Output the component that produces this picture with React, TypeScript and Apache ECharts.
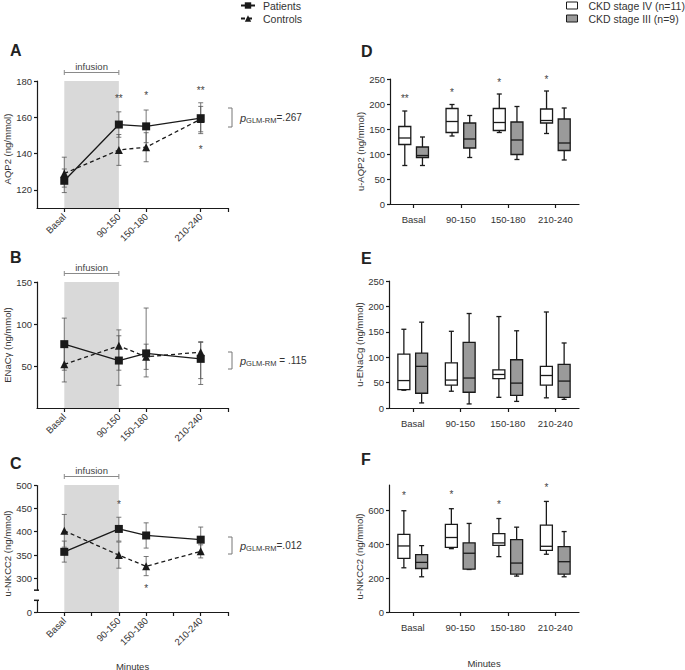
import React, { useEffect, useRef } from 'react';
import * as echarts from 'echarts';

const FONT = '"Liberation Sans", Arial, Helvetica, sans-serif';
const INK = '#1a1a1a';
const TXT = '#333';

// ---------- time points (left panels) ----------
const timeLabels = ['Basal', '90-150', '150-180', '210-240'];
const timePos = [0, 2, 3, 5];

// Panel A: AQP2
const aPat = [125, 156, 155, 159.5];
const aPatLo = [118.5, 149, 146, 151];
const aPatHi = [131.5, 163, 164, 168];
const aCtl = [129, 142, 143.5, 159];
const aCtlLo = [121.5, 133.5, 135.5, 152];
const aCtlHi = [138, 150.5, 151.5, 166];
const aStarX = [2, 3, 5, 5];
const aStarY = [172, 173.5, 176.5, 144];
const aStarText = ['**', '*', '**', '*'];

// Panel B: ENaCγ
const bPat = [76, 56.5, 65, 58.5];
const bPatLo = [45, 27, 37, 28];
const bPatHi = [107, 86, 119, 79];
const bCtl = [52, 74, 61, 66.5];
const bCtlLo = [31, 45, 46, 35];
const bCtlHi = [73, 93, 76, 78];

// Panel C: u-NKCC2 (axis broken between 25 and 275)
const cPat = [357, 406, 392, 383];
const cPatLo = [335, 380, 365, 356];
const cPatHi = [380, 431, 419, 410];
const cCtl = [402, 350, 326, 358];
const cCtlLo = [367, 322, 306, 344];
const cCtlHi = [437, 378, 347, 372];
const cStarX = [2, 3];
const cStarY = [464, 285];
const cStarText = ['*', '*'];
const cBreak = [25, 275];

// ---------- box plots (right panels): [min, q1, median, q3, max] ----------
const dStage4 = [[77, 119, 132, 155, 186], [136, 143, 165, 191, 199], [143, 147, 163, 191, 220], [141, 162, 167, 190, 226]];
const dStage3 = [[77, 93, 97, 114, 134], [93, 112, 130, 162, 177], [89, 99, 128, 164, 195], [88, 107, 122, 170, 192]];
const dStarY = [218, 229, 249, 255];
const dStarText = ['**', '*', '*', '*'];

const eStage4 = [[35, 36, 54, 106, 155], [33, 45, 55, 89, 151], [21, 58, 66, 75, 180], [20, 45, 64, 82, 189]];
const eStage3 = [[10, 29, 82, 108, 169], [8, 31, 59, 129, 186], [13, 25, 49, 95, 152], [17, 21, 53, 86, 128]];

const fStage4 = [[261, 317, 390, 459, 598], [374, 382, 440, 517, 610], [327, 394, 408, 463, 552], [341, 364, 388, 513, 653]];
const fStage3 = [[208, 257, 293, 339, 392], [251, 253, 347, 408, 523], [212, 224, 289, 428, 501], [208, 224, 297, 386, 475]];
const fStarY = [703, 713, 653, 752];
const fStarText = ['*', '*', '*', '*'];

const S4 = 'CKD stage IV (n=11)';
const S3 = 'CKD stage III (n=9)';

function buildOption() {
  const grids = [
    { left: 37, top: 81, width: 191, height: 127 },
    { left: 37, top: 282, width: 191, height: 126 },
    { left: 37, top: 485, width: 191, height: 127 },
    { left: 390, top: 79, width: 189, height: 125 },
    { left: 389, top: 281, width: 190, height: 127 },
    { left: 389, top: 485, width: 190, height: 127 },
  ].map((g) => ({ ...g, containLabel: false, outerBoundsMode: 'none' }));

  const axisLine = { show: true, onZero: false, lineStyle: { color: INK, width: 1.2 } };
  const tickStyle = { color: INK, width: 1.2 };
  const nameStyle = (shift = 0) => ({ fontSize: 9.5, color: TXT, fontFamily: FONT, padding: [0, shift, 0, 0] });

  const leftX = (gi: number, ticks: number[], name?: string) => ({
    type: 'value', gridIndex: gi, min: -1, max: 6,
    axisLine,
    axisTick: { show: true, length: 4, customValues: ticks, lineStyle: tickStyle },
    axisLabel: {
      customValues: timePos,
      formatter: (v: number) => timeLabels[timePos.indexOf(v)] ?? '',
      rotate: 45, fontSize: 9.5, color: TXT, fontFamily: FONT, margin: 7,
    },
    splitLine: { show: false },
    name: name ?? '', nameLocation: 'middle', nameGap: 49, nameTextStyle: nameStyle(),
  });

  const rightX = (gi: number, name?: string) => ({
    type: 'category', gridIndex: gi, data: timeLabels, boundaryGap: true,
    axisLine,
    axisTick: { show: true, length: 4, alignWithLabel: true, lineStyle: tickStyle },
    axisLabel: { fontSize: 9.5, color: TXT, fontFamily: FONT, margin: 10 },
    splitLine: { show: false },
    name: name ?? '', nameLocation: 'middle', nameGap: 46, nameTextStyle: nameStyle(),
  });

  const yAx = (gi: number, min: number, max: number, name: string, gap: number, shift: number, extra: any = {}) => ({
    type: 'value', gridIndex: gi, min, max,
    axisLine,
    axisTick: { show: true, length: 3, lineStyle: tickStyle, ...(extra.ticks ? { customValues: extra.ticks } : {}) },
    axisLabel: { fontSize: 9.5, color: TXT, fontFamily: FONT, margin: 5, ...(extra.labels ? { customValues: extra.labels } : {}) },
    splitLine: { show: false },
    name, nameLocation: 'middle', nameGap: gap, nameTextStyle: nameStyle(shift),
    ...(extra.interval ? { interval: extra.interval } : {}),
    ...(extra.axis ?? {}),
  });

  const xAxis = [
    leftX(0, [0, 2, 3, 5, 6]),
    leftX(1, [0, 2, 3, 5, 6]),
    leftX(2, [0, 1, 2, 3, 4, 5, 6], 'Minutes'),
    rightX(3),
    rightX(4),
    rightX(5, 'Minutes'),
  ];

  const yAxis = [
    yAx(0, 110, 180, 'AQP2 (ng/mmol)', 22, 9, { labels: [120, 140, 160, 180], ticks: [120, 140, 160, 180] }),
    yAx(1, 0, 150, 'ENaCγ (ng/mmol)', 22, 0, { labels: [50, 100, 150], ticks: [50, 100, 150] }),
    yAx(2, 0, 500, 'u-NKCC2 (ng/mmol)', 22, 10, {
      labels: [0, 300, 350, 400, 450, 500], ticks: [0, 300, 350, 400, 450, 500],
      axis: {
        breaks: [{ start: cBreak[0], end: cBreak[1], gap: '8%' }],
        breakArea: {
          show: true, zigzagAmplitude: 0,
          itemStyle: { color: 'rgba(0,0,0,0)', borderColor: 'rgba(0,0,0,0)', borderWidth: 0 },
        },
      },
    }),
    yAx(3, 0, 250, 'u-AQP2 (ng/mmol)', 24, 20, { interval: 50 }),
    yAx(4, 0, 250, 'u-ENaCg (ng/mmol)', 24, 0, { interval: 50 }),
    yAx(5, 0, 750, 'u-NKCC2 (ng/mmol)', 24, 16, { labels: [0, 200, 400, 600], ticks: [0, 200, 400, 600] }),
  ];

  const series: any[] = [];

  const errRender = (params: any, api: any) => {
    const x = api.value(0);
    const pLo = api.coord([x, api.value(1)]);
    const pHi = api.coord([x, api.value(2)]);
    const cw = 2.5;
    const st = { stroke: '#555', lineWidth: 0.8 };
    return {
      type: 'group',
      children: [
        { type: 'line', shape: { x1: pLo[0], y1: pLo[1], x2: pHi[0], y2: pHi[1] }, style: st },
        { type: 'line', shape: { x1: pLo[0] - cw, y1: pLo[1], x2: pLo[0] + cw, y2: pLo[1] }, style: st },
        { type: 'line', shape: { x1: pHi[0] - cw, y1: pHi[1], x2: pHi[0] + cw, y2: pHi[1] }, style: st },
      ],
    };
  };

  const bracketRender = (params: any, api: any) => {
    const a = api.coord([api.value(0), api.value(2)]);
    const b = api.coord([api.value(1), api.value(2)]);
    const yb = params.coordSys.y - 8.5;
    const st = { stroke: '#8a8a8a', lineWidth: 1 };
    return {
      type: 'group',
      children: [
        { type: 'line', shape: { x1: a[0], y1: yb, x2: b[0], y2: yb }, style: st },
        { type: 'line', shape: { x1: a[0], y1: yb - 2.5, x2: a[0], y2: yb + 2.5 }, style: st },
        { type: 'line', shape: { x1: b[0], y1: yb - 2.5, x2: b[0], y2: yb + 2.5 }, style: st },
        {
          type: 'text', x: (a[0] + b[0]) / 2, y: yb - 6,
          style: { text: 'infusion', fill: '#444', fontSize: 9.5, fontFamily: FONT, align: 'center', verticalAlign: 'middle' },
        },
      ],
    };
  };

  // significance stars drawn as text at data coordinates
  const starSeries = (gi: number, xs: number[], ys: number[], texts: string[], dxFrac: number) => ({
    type: 'custom', name: 'sig' + gi, xAxisIndex: gi, yAxisIndex: gi, silent: true, clip: false,
    data: xs.map((x, k) => [x, ys[k]]), encode: { x: 0, y: 1 },
    itemStyle: { color: '#444' },
    renderItem: (params: any, api: any) => {
      const p = api.coord([api.value(0), api.value(1)]);
      const dx = dxFrac ? api.size([1, 0])[0] * dxFrac : 0;
      return {
        type: 'text', x: p[0] + dx, y: p[1] + 3,
        style: {
          text: texts[params.dataIndex], fill: '#444', fontSize: 10, fontFamily: FONT,
          align: 'center', verticalAlign: 'middle',
        },
      };
    },
    z: 6,
  });

  // broken-axis decoration for panel C (gap in the axis line with end caps)
  const breakRender = (params: any, api: any) => {
    const x0 = params.coordSys.x;
    const yHi = api.coord([0, api.value(2)])[1];
    const yLo = api.coord([0, api.value(1)])[1];
    const st = { stroke: INK, lineWidth: 1.5 };
    return {
      type: 'group',
      children: [
        { type: 'rect', shape: { x: x0 - 2, y: yHi + 0.5, width: 4, height: yLo - yHi - 1 }, style: { fill: '#ffffff' } },
        { type: 'line', shape: { x1: x0 - 3, y1: yHi, x2: x0 + 2, y2: yHi }, style: st },
        { type: 'line', shape: { x1: x0 - 3, y1: yLo, x2: x0 + 2, y2: yLo }, style: st },
      ],
    };
  };

  const leftPanel = (gi: number, yMin: number, yMax: number,
    pat: number[], patLo: number[], patHi: number[],
    ctl: number[], ctlLo: number[], ctlHi: number[],
    starX: number[], starY: number[], starText: string[]) => {
    const errData = timePos.map((x, k) => [x, patLo[k], patHi[k]])
      .concat(timePos.map((x, k) => [x, ctlLo[k], ctlHi[k]]));
    series.push({
      type: 'custom', name: 'infusion', xAxisIndex: gi, yAxisIndex: gi, silent: true,
      data: [[0, 2, yMax]], encode: { x: [0, 1], y: 2 },
      renderItem: bracketRender, z: 1,
    });
    series.push({
      type: 'custom', name: 'err' + gi, xAxisIndex: gi, yAxisIndex: gi, silent: true,
      data: errData, encode: { x: 0, y: [1, 2] }, renderItem: errRender, z: 3,
    });
    series.push({
      type: 'line', name: 'Patients', xAxisIndex: gi, yAxisIndex: gi,
      data: timePos.map((x, k) => [x, pat[k]]),
      symbol: 'rect', symbolSize: 8, showSymbol: true,
      lineStyle: { color: INK, width: 1.3, type: 'solid' },
      itemStyle: { color: INK }, z: 5,
      markArea: {
        silent: true, itemStyle: { color: '#d9d9d9' },
        data: [[{ xAxis: 0, yAxis: yMin }, { xAxis: 2, yAxis: yMax }]],
        z: 0,
      },
    });
    series.push({
      type: 'line', name: 'Controls', xAxisIndex: gi, yAxisIndex: gi,
      data: timePos.map((x, k) => [x, ctl[k]]),
      symbol: 'triangle', symbolSize: 8, showSymbol: true,
      lineStyle: { color: INK, width: 1.3, type: [4, 3] },
      itemStyle: { color: INK }, z: 4,
    });
    if (starX.length) series.push(starSeries(gi, starX, starY, starText, 0));
  };

  leftPanel(0, 110, 180, aPat, aPatLo, aPatHi, aCtl, aCtlLo, aCtlHi, aStarX, aStarY, aStarText);
  leftPanel(1, 0, 150, bPat, bPatLo, bPatHi, bCtl, bCtlLo, bCtlHi, [], [], []);
  leftPanel(2, 0, 500, cPat, cPatLo, cPatHi, cCtl, cCtlLo, cCtlHi, cStarX, cStarY, cStarText);

  series.push({
    type: 'custom', name: 'axisBreak', xAxisIndex: 2, yAxisIndex: 2, silent: true, clip: false,
    data: [[0, cBreak[0], cBreak[1]]], encode: { x: 0, y: [1, 2] },
    renderItem: breakRender, z: 10,
  });

  const boxRender = (sign: number, fill: string) => (params: any, api: any) => {
    const cat = api.value(0);
    const vals = [1, 2, 3, 4, 5].map((i) => api.value(i));
    const band = api.size([1, 0])[0];
    const base = api.coord([cat, vals[2]]);
    const cx = base[0] + sign * band * 0.187;
    const y = vals.map((v: number) => api.coord([cat, v])[1]);
    const hw = 6;
    const cw = 2.5;
    const st = { stroke: INK, lineWidth: 1.3 };
    return {
      type: 'group',
      children: [
        { type: 'line', shape: { x1: cx, y1: y[4], x2: cx, y2: y[3] }, style: st },
        { type: 'line', shape: { x1: cx - cw, y1: y[4], x2: cx + cw, y2: y[4] }, style: st },
        { type: 'line', shape: { x1: cx, y1: y[1], x2: cx, y2: y[0] }, style: st },
        { type: 'line', shape: { x1: cx - cw, y1: y[0], x2: cx + cw, y2: y[0] }, style: st },
        { type: 'rect', shape: { x: cx - hw, y: y[3], width: 2 * hw, height: y[1] - y[3] }, style: { fill, stroke: INK, lineWidth: 1.3 } },
        { type: 'line', shape: { x1: cx - hw, y1: y[2], x2: cx + hw, y2: y[2] }, style: st },
      ],
    };
  };

  const rightPanel = (gi: number, s4: number[][], s3: number[][], starY: number[], starText: string[]) => {
    series.push({
      type: 'custom', name: S4, xAxisIndex: gi, yAxisIndex: gi,
      data: s4.map((b, k) => [k, ...b]), encode: { x: 0, y: [1, 2, 3, 4, 5] },
      itemStyle: { color: '#ffffff', borderColor: INK }, renderItem: boxRender(-1, '#ffffff'), z: 3,
    });
    series.push({
      type: 'custom', name: S3, xAxisIndex: gi, yAxisIndex: gi,
      data: s3.map((b, k) => [k, ...b]), encode: { x: 0, y: [1, 2, 3, 4, 5] },
      itemStyle: { color: '#9a9a9a', borderColor: INK }, renderItem: boxRender(1, '#9a9a9a'), z: 3,
    });
    if (starY.length) series.push(starSeries(gi, starY.map((_, k) => k), starY, starText, -0.187));
  };

  rightPanel(3, dStage4, dStage3, dStarY, dStarText);
  rightPanel(4, eStage4, eStage3, [], []);
  rightPanel(5, fStage4, fStage3, fStarY, fStarText);

  const letter = (t: string, x: number, y: number) => ({
    type: 'text', x, y,
    style: { text: t, fill: '#222', fontSize: 16, fontWeight: 'bold', fontFamily: FONT, verticalAlign: 'top' },
  });

  const pNote = (yTop: number, yBot: number, val: string) => ({
    type: 'group',
    children: [
      {
        type: 'polyline',
        shape: { points: [[228, yTop], [232, yTop], [232, yBot], [228, yBot]] },
        style: { stroke: '#777', lineWidth: 1, fill: null },
      },
      {
        type: 'text', x: 240, y: (yTop + yBot) / 2,
        style: {
          text: `{p|p}{s|GLM-RM}{t|${val}}`,
          verticalAlign: 'middle',
          rich: {
            p: { fontSize: 11, fontStyle: 'italic', fill: '#333', fontFamily: FONT, lineHeight: 14, verticalAlign: 'middle' },
            s: { fontSize: 7.5, fill: '#333', fontFamily: FONT, lineHeight: 14, verticalAlign: 'bottom' },
            t: { fontSize: 10, fill: '#333', fontFamily: FONT, lineHeight: 14, verticalAlign: 'middle' },
          },
        },
      },
    ],
  });

  return {
    animation: false,
    backgroundColor: '#ffffff',
    textStyle: { fontFamily: FONT },
    grid: grids,
    xAxis,
    yAxis,
    series,
    legend: [
      {
        left: 240, top: 0, orient: 'vertical', padding: 0, itemGap: 2,
        itemWidth: 14, itemHeight: 8, selectedMode: false,
        data: ['Patients', 'Controls'],
        textStyle: { fontSize: 10.5, color: TXT, fontFamily: FONT, padding: [0, 0, 0, 3] },
      },
      {
        left: 566, top: 0, orient: 'vertical', padding: 0, itemGap: 2,
        itemWidth: 11, itemHeight: 7, selectedMode: false,
        data: [
          { name: S4, icon: 'rect', itemStyle: { color: '#ffffff', borderColor: INK, borderWidth: 1 } },
          { name: S3, icon: 'rect', itemStyle: { color: '#9a9a9a', borderColor: INK, borderWidth: 1 } },
        ],
        textStyle: { fontSize: 10.5, color: TXT, fontFamily: FONT, padding: [0, 0, 0, 6] },
      },
    ],
    graphic: [
      letter('A', 10, 42),
      letter('B', 10, 249),
      letter('C', 10, 455),
      letter('D', 361, 43),
      letter('E', 361, 250),
      letter('F', 361, 451),
      pNote(108, 127, '=.267'),
      pNote(352, 369, ' = .115'),
      pNote(537, 554, '=.012'),
    ],
  };
}

export default function App() {
  const ref = useRef<HTMLDivElement>(null);
  useEffect(() => {
    if (!ref.current) return;
    const chart = echarts.init(ref.current, null, { renderer: 'svg' });
    chart.setOption(buildOption() as any);
    return () => chart.dispose();
  }, []);
  return (
    <div
      ref={ref}
      style={{ position: 'absolute', left: 0, top: 0, width: 685, height: 670, background: '#ffffff' }}
    />
  );
}
